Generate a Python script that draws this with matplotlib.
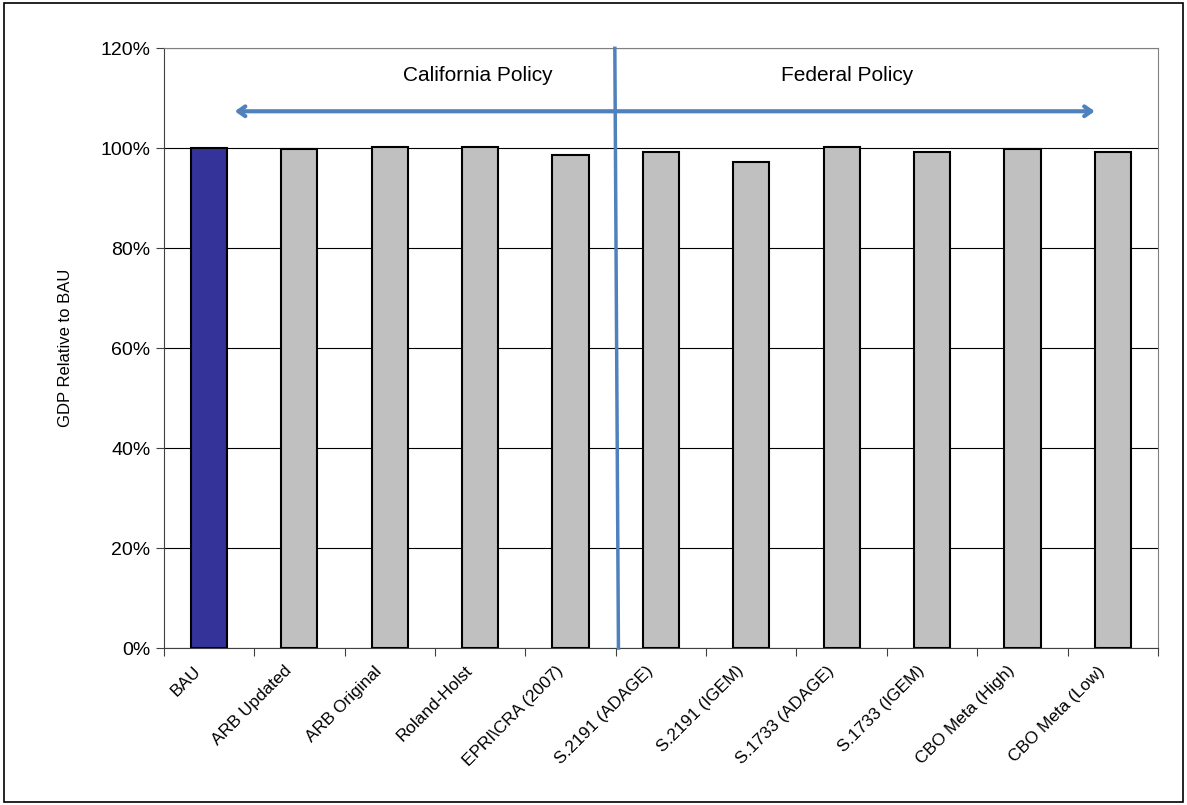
import matplotlib.pyplot as plt
from matplotlib.patches import Rectangle

plt.rcParams['font.family'] = ['Liberation Sans', 'DejaVu Sans']

categories = ["BAU", "ARB Updated", "ARB Original", "Roland-Holst", "EPRI\\CRA (2007)",
              "S.2191 (ADAGE)", "S.2191 (IGEM)", "S.1733 (ADAGE)", "S.1733 (IGEM)",
              "CBO Meta (High)", "CBO Meta (Low)"]
gdp_pct = [100.0, 99.8, 100.2, 100.2, 98.7, 99.3, 97.3, 100.2, 99.3, 99.8, 99.3]
yticks = [0, 20, 40, 60, 80, 100, 120]
colors = ["#333399"] + ["#C0C0C0"] * (len(categories) - 1)

fig = plt.figure(figsize=(11.87, 8.05), dpi=100)
ax = fig.add_axes([0.138, 0.195, 0.8376, 0.745])

x = list(range(len(categories)))
ax.bar(x, gdp_pct, width=0.4, color=colors, edgecolor="black", linewidth=1.5, zorder=3)

ax.set_xlim(-0.5, len(categories) - 0.5)
ax.set_ylim(0, 120)
ax.set_yticks(yticks)
ax.set_yticklabels([f"{v}%" for v in yticks], fontsize=14)
ax.yaxis.grid(True, color="black", linewidth=0.8, zorder=0)
ax.set_axisbelow(True)
ax.set_ylabel("GDP Relative to BAU", fontsize=12)
ax.yaxis.set_label_coords(-0.0915, 0.5)

# category ticks sit between bars; rotated labels end just left of each bar centre
ax.set_xticks([i - 0.5 for i in range(len(categories) + 1)])
ax.set_xticklabels([])
label_shift = 0.17
ax.set_xticks([i - label_shift for i in x], minor=True)
ax.set_xticklabels(categories, minor=True, rotation=45, ha="right",
                   rotation_mode="anchor", fontsize=12.4)
ax.tick_params(axis="x", which="minor", length=0, pad=11)
ax.tick_params(axis="x", which="major", length=6, direction="out", color="#404040")
ax.tick_params(axis="y", length=6, direction="out", color="#404040")

for side in ["top", "right"]:
    ax.spines[side].set_color("#808080")
ax.spines["left"].set_color("#404040")
ax.spines["bottom"].set_color("#404040")

# divider between California and federal studies
ax.plot([4.49, 4.53], [120, 0], color="#4F81BD", linewidth=2.5, zorder=4, clip_on=False)
ax.annotate("", xy=(0.285, 107.4), xytext=(9.80, 107.4),
            arrowprops=dict(arrowstyle="<->,head_length=0.5,head_width=0.35",
                            color="#4F81BD", lw=3, shrinkA=0, shrinkB=0), zorder=4)
ax.text(2.97, 114.6, "California Policy", ha="center", va="center", fontsize=15)
ax.text(7.06, 114.6, "Federal Policy", ha="center", va="center", fontsize=15)

fig.patches.append(Rectangle((0.003, 0.004), 0.994, 0.992, transform=fig.transFigure,
                             fill=False, edgecolor="black", linewidth=1.2))

fig.savefig("out.png", dpi=100)
